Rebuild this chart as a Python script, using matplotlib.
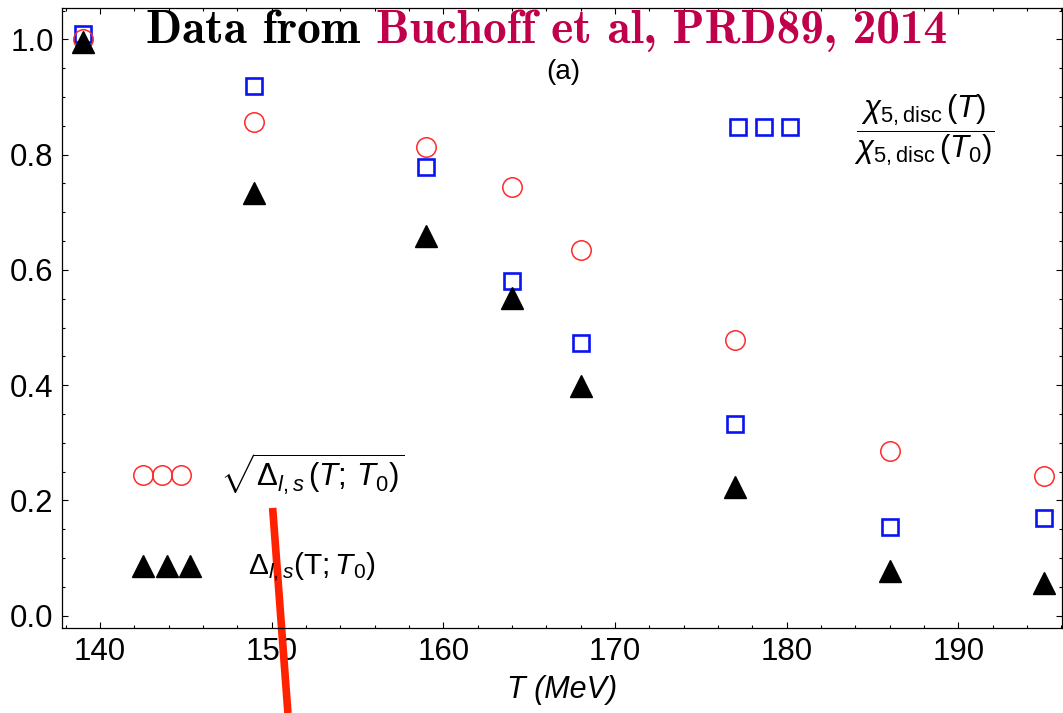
import matplotlib
matplotlib.use("Agg")
import matplotlib.pyplot as plt
from matplotlib.ticker import MultipleLocator, FormatStrFormatter

# temperatures (MeV) and normalised ratios
T = [139, 149, 159, 164, 168, 177, 186, 195]
chi5_ratio = [1.009, 0.919, 0.779, 0.581, 0.474, 0.333, 0.154, 0.170]
sqrt_delta = [1.000, 0.857, 0.813, 0.743, 0.634, 0.478, 0.285, 0.243]
delta_ls = [0.995, 0.734, 0.658, 0.551, 0.398, 0.224, 0.077, 0.056]

x_ticks = [140, 150, 160, 170, 180, 190]
y_ticks = [0.0, 0.2, 0.4, 0.6, 0.8, 1.0]

plt.rcParams['font.family'] = ['Liberation Sans', 'DejaVu Sans']
plt.rcParams['mathtext.fontset'] = 'custom'
plt.rcParams['mathtext.rm'] = 'Liberation Sans'
plt.rcParams['mathtext.it'] = 'Liberation Sans:italic'
plt.rcParams['mathtext.bf'] = 'Liberation Sans:bold'

fig = plt.figure(figsize=(10.63, 7.13), dpi=100)
ax = fig.add_axes([0.0583, 0.1188, 0.9407, 0.8696])

blue = '#0a14f0'
red = '#ff2a2a'

ax.plot(T, chi5_ratio, 's', ms=11.5, mfc='none', mec=blue, mew=1.9, ls='none')
ax.plot(T, sqrt_delta, 'o', ms=14, mfc='none', mec=red, mew=1.1, ls='none')
ax.plot(T, delta_ls, '^', ms=16.5, color='black', ls='none')

ax.set_xlim(137.79, 196.03)
ax.set_ylim(-0.0219, 1.054)
ax.set_xticks(x_ticks)
ax.set_yticks(y_ticks)
ax.yaxis.set_major_formatter(FormatStrFormatter('%.1f'))
ax.xaxis.set_minor_locator(MultipleLocator(2))
ax.yaxis.set_minor_locator(MultipleLocator(0.05))
ax.tick_params(which='both', direction='in', top=True, right=True,
               width=0.8, labelsize=22.5)
ax.tick_params(which='major', length=4.5, pad=6)
ax.tick_params(which='minor', length=2.5)
for s in ax.spines.values():
    s.set_linewidth(0.9)

ax.set_xlabel('T (MeV)', fontsize=22, fontstyle='italic', labelpad=6)

# legend keys, three markers each
ax.plot([0.6763, 0.7023, 0.728], [0.809] * 3, 's', ms=11.5, mfc='none',
        mec=blue, mew=1.9, transform=ax.transAxes)
ax.plot([0.0813, 0.1003, 0.119], [0.2473] * 3, 'o', ms=14, mfc='none',
        mec=red, mew=1.1, transform=ax.transAxes)
ax.plot([0.0813, 0.1047, 0.128], [0.100] * 3, '^', ms=16.5, color='black',
        transform=ax.transAxes)

ax.text(0.8625, 0.804,
        r'$\dfrac{\chi_{5,\mathrm{disc}}\,(T)}{\chi_{5,\mathrm{disc}}\,(T_0)}$',
        transform=ax.transAxes, ha='center', va='center', fontsize=22.5)
ax.text(0.158, 0.249, r'$\sqrt{\Delta_{l,s}\,(T;\,T_0)}$',
        transform=ax.transAxes, ha='left', va='center', fontsize=22.5)
ax.text(0.1857, 0.099, r'$\Delta_{l,s}(\mathrm{T};T_0)$',
        transform=ax.transAxes, ha='left', va='center', fontsize=21.5)
ax.text(0.501, 0.8973, '(a)', transform=ax.transAxes, ha='center',
        va='center', fontsize=20)

# title in two colours
t1 = ax.text(0.084, 0.9445, 'Data from ', transform=ax.transAxes,
             ha='left', va='baseline', fontsize=34, family='cmb10')
ax.annotate('Buchoff et al, PRD89, 2014', xy=(1, 0), xycoords=t1,
            ha='left', va='bottom', fontsize=34, family='cmb10',
            color='#c0004a')

# red stroke across the bottom
ax.plot([150.06, 150.95], [0.187, -0.169], color='#ff2200', lw=5.5,
        solid_capstyle='butt', clip_on=False)

fig.savefig('out.png', dpi=100)
